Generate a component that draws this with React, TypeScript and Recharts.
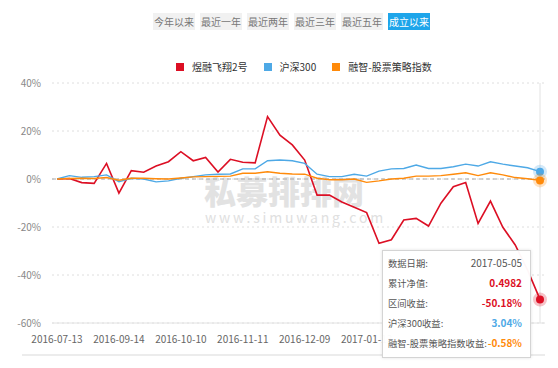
import { LineChart, Line, XAxis, YAxis, CartesianGrid, Tooltip, ReferenceLine } from "recharts";

// 日期
const dates = [
    "2016-07-13", "2016-07-29", "2016-08-12", "2016-08-26", "2016-09-09",
    "2016-09-14", "2016-09-19", "2016-09-23", "2016-09-30", "2016-10-07",
    "2016-10-10", "2016-10-14", "2016-10-21", "2016-10-28", "2016-11-04",
    "2016-11-11", "2016-11-18", "2016-11-25", "2016-12-01", "2016-12-05",
    "2016-12-09", "2016-12-16", "2016-12-23", "2016-12-30", "2017-01-06",
    "2017-01-13", "2017-01-20", "2017-02-03", "2017-02-10", "2017-02-17",
    "2017-02-24", "2017-03-03", "2017-03-10", "2017-03-17", "2017-03-24",
    "2017-03-31", "2017-04-07", "2017-04-14", "2017-04-21", "2017-05-05",
];

// x轴可见刻度（其余被提示框遮住）
const xTicks = ["2016-07-13", "2016-09-14", "2016-10-10", "2016-11-11", "2016-12-09", "2017-01-13"];

// 煜融飞翔2号 区间收益 (%)
const fundReturns = [
    0, 0.2, -1.5, -1.8, 6.5, -5.9, 3.5, 2.8, 5.4, 7.2,
    11.4, 7.6, 9.0, 2.9, 8.2, 7.0, 6.7, 26.0, 18.3, 14.2,
    7.9, -6.7, -6.7, -9.6, -11.8, -14.0, -26.8, -25.3, -17.1, -16.4,
    -19.6, -10.1, -3.2, -1.5, -18.5, -9.2, -20.1, -27.5, -38.0, -50.18,
];

// 沪深300 收益 (%)
const hs300Returns = [
    0, 1.4, 0.7, 1.0, 1.7, -1.1, 0.3, 0, -1.2, -0.8,
    0.3, 1.0, 1.7, 2.0, 2.1, 4.2, 4.2, 7.6, 7.9, 7.6,
    6.5, 2.0, 1.0, 1.0, 2.0, 1.2, 3.3, 4.2, 4.4, 5.8,
    4.4, 4.4, 5.1, 6.2, 5.4, 7.2, 6.2, 5.4, 4.7, 3.04,
];

// 融智-股票策略指数 收益 (%)
const strategyReturns = [
    0, 0.2, 0.3, 0.2, 0.6, -0.5, 0.3, 0.3, 0.1, 0,
    0.4, 0.9, 1.0, 1.1, 1.2, 2.4, 2.4, 3.0, 2.4, 2.1,
    2.0, 0.3, -0.3, -0.3, 0, -1.4, -0.8, 0, 0.3, 1.2,
    1.2, 1.4, 2.0, 2.6, 1.4, 2.6, 1.7, 0.6, 0.1, -0.58,
];

const yTicks = [-60, -40, -20, 0, 20, 40];
const periodTabs = ["今年以来", "最近一年", "最近两年", "最近三年", "最近五年", "成立以来"];

const COLORS = {
    fund: "#dc0f24",
    hs300: "#4ea9e6",
    strategy: "#ff8a0a",
};

const SERIES = [
    { key: "fund", name: "煜融飞翔2号", color: COLORS.fund },
    { key: "hs300", name: "沪深300", color: COLORS.hs300 },
    { key: "strategy", name: "融智-股票策略指数", color: COLORS.strategy },
];

const chartData = dates.map((date, i) => ({
    date,
    fund: fundReturns[i],
    hs300: hs300Returns[i],
    strategy: strategyReturns[i],
}));

const FONT = '"Microsoft YaHei", "Noto Sans CJK SC", sans-serif';

// 提示框
const InfoTooltip = ({ active, payload, label }: any) => {
    if (!active || !payload || !payload.length) return null;
    const get = (key: string) => payload.find((p: any) => p.dataKey === key)?.value as number;
    const fund = get("fund");
    const rows = [
        { label: "数据日期:", value: label, color: "#555", bold: false },
        { label: "累计净值:", value: (1 + fund / 100).toFixed(4), color: COLORS.fund, bold: true },
        { label: "区间收益:", value: `${fund.toFixed(2)}%`, color: COLORS.fund, bold: true },
        { label: "沪深300收益:", value: `${get("hs300").toFixed(2)}%`, color: COLORS.hs300, bold: true },
        { label: "融智-股票策略指数收益:", value: `${get("strategy").toFixed(2)}%`, color: COLORS.strategy, bold: true },
    ];
    return (
        <div style={{
            width: 134,
            background: "rgba(255,255,255,0.97)",
            border: "1px solid #d4d4d4",
            boxShadow: "0 0 3px rgba(0,0,0,0.12)",
            padding: "2px 8px 4px 5px",
            fontFamily: FONT,
            lineHeight: "20px",
            whiteSpace: "nowrap",
        }}>
            {rows.map((r) => (
                <div key={r.label} style={{ display: "flex", justifyContent: "space-between", alignItems: "baseline" }}>
                    <span style={{ color: "#555", fontSize: 9.3 }}>{r.label}</span>
                    <span style={{ color: r.color, fontWeight: r.bold ? 700 : 400, fontSize: 10 }}>{r.value}</span>
                </div>
            ))}
        </div>
    );
};

export default function App() {
    return (
        <div style={{ position: "relative", width: 558, height: 368, background: "#fff", overflow: "hidden", fontFamily: FONT }}>
            <style>{"body{margin:0}"}</style>

            {/* 时间区间按钮 */}
            {periodTabs.map((t, i) => {
                const on = i === periodTabs.length - 1;
                return (
                    <div key={t} style={{
                        position: "absolute", left: 153 + i * 47, top: 13, width: 42, height: 17,
                        background: on ? "#1ea5ea" : "#f1f1f1", color: on ? "#fff" : "#777",
                        fontSize: 10, lineHeight: "17px", textAlign: "center",
                    }}>{t}</div>
                );
            })}

            {/* 图例 */}
            <div style={{ position: "absolute", top: 60, left: 176, display: "flex", fontSize: 10, color: "#333", lineHeight: "14px" }}>
                {SERIES.map((s) => (
                    <div key={s.key} style={{ display: "flex", alignItems: "center", marginRight: 16 }}>
                        <span style={{ display: "inline-block", width: 8, height: 8, background: s.color, marginRight: 8 }} />
                        {s.name}
                    </div>
                ))}
            </div>

            {/* 水印 */}
            <div style={{ position: "absolute", left: 204, top: 174, color: "#e2e2e2", fontSize: 32, fontWeight: 900, lineHeight: "32px" }}>私募排排网</div>
            <div style={{ position: "absolute", left: 205, top: 210, color: "#e0e0e0", fontSize: 14, letterSpacing: 2.8, lineHeight: "14px" }}>www.simuwang.com</div>

            {/* 底部分隔线 */}
            <div style={{ position: "absolute", left: 22, top: 354, width: 523, height: 2, background: "#ececec" }} />

            <div style={{ position: "absolute", left: 0, top: 0 }}>
                <LineChart width={558} height={368} data={chartData} margin={{ top: 83, right: 13, bottom: 0, left: 0 }}>
                    <CartesianGrid vertical={false} stroke="#dedede" strokeDasharray="2 3" />
                    <XAxis
                        dataKey="date"
                        ticks={xTicks}
                        interval={0}
                        tickLine={false}
                        axisLine={{ stroke: "#e2e2e2" }}
                        tick={{ fill: "#666", fontSize: 10 }}
                        tickMargin={7}
                        height={45}
                        padding={{ left: 5, right: 5 }}
                    />
                    <YAxis
                        domain={[-60, 40]}
                        ticks={yTicks}
                        tickFormatter={(v) => `${v}%`}
                        axisLine={false}
                        tickLine={false}
                        tick={{ fill: "#888", fontSize: 10 }}
                        tickMargin={5}
                        width={52}
                    />
                    <ReferenceLine y={0} stroke="#a8a8a8" strokeDasharray="4 3" />
                    <Tooltip
                        defaultIndex={dates.length - 1}
                        active={true}
                        content={<InfoTooltip />}
                        position={{ x: 382, y: 250 }}
                        cursor={{ stroke: "#e2e2e2", strokeWidth: 1 }}
                        isAnimationActive={false}
                    />
                    {SERIES.map((s) => (
                        <Line
                            key={s.key}
                            type="linear"
                            dataKey={s.key}
                            name={s.name}
                            stroke={s.color}
                            strokeWidth={s.key === "fund" ? 1.6 : 1.4}
                            dot={false}
                            activeDot={{ r: 4, fill: s.color, stroke: s.color, strokeOpacity: 0.25, strokeWidth: 6 }}
                            isAnimationActive={false}
                        />
                    ))}
                </LineChart>
            </div>
        </div>
    );
}
